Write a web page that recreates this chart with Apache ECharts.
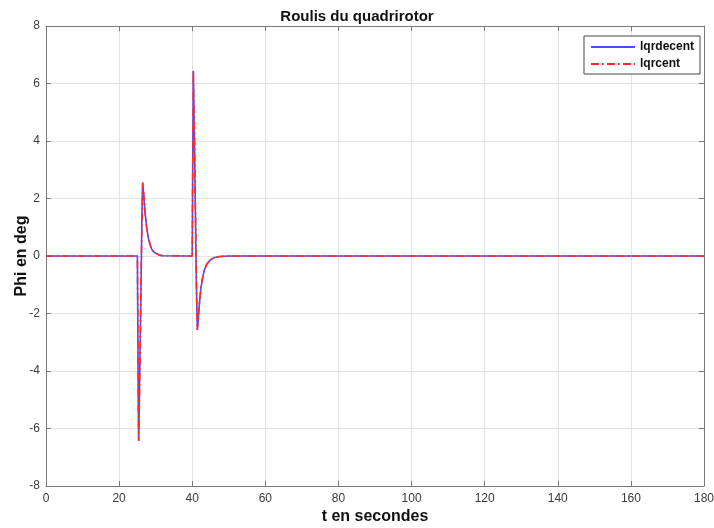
<!DOCTYPE html>
<html><head><meta charset="utf-8">
<script src="https://cdn.jsdelivr.net/npm/echarts@6/dist/echarts.min.js"></script>
<style>html,body{margin:0;padding:0;background:#fff}#c{width:714px;height:528px}</style>
</head><body><div id="c"></div>
<script>
const title = "Roulis du quadrirotor";
const xName = "t en secondes";
const yName = "Phi en deg";
const seriesNames = ["lqrdecent", "lqrcent"];
const xTicks = [0, 20, 40, 60, 80, 100, 120, 140, 160, 180];
const yTicks = [-8, -6, -4, -2, 0, 2, 4, 6, 8];

const t = [0, 25.0, 25.12, 25.25, 25.35, 25.5, 25.7, 25.9, 26.1, 26.3, 26.45, 26.7, 27.0, 27.5, 28.0, 28.5, 29.0, 29.5, 30.0, 31.0, 32.0,
  40.0, 40.15, 40.3, 40.6, 40.9, 41.15, 41.4, 41.6, 41.9, 42.3, 42.8, 43.3, 44.0, 45.0, 46.0, 47.5, 50.0, 180];
const phiDecent = [0, 0, -2.4, -5.2, -6.43, -5.3, -3.6, -1.9, 0.0, 1.8, 2.55, 2.2, 1.65, 1.02, 0.62, 0.38, 0.22, 0.14, 0.08, 0.03, 0.01,
  0, 3.4, 6.44, 4.1, 1.3, -1.1, -2.57, -2.3, -1.75, -1.2, -0.78, -0.5, -0.28, -0.13, -0.06, -0.02, 0, 0];
const phiCent = [0, 0, -2.4, -5.2, -6.43, -5.3, -3.6, -1.9, 0.0, 1.8, 2.55, 2.2, 1.65, 1.02, 0.62, 0.38, 0.22, 0.14, 0.08, 0.03, 0.01,
  0, 3.4, 6.44, 4.1, 1.3, -1.1, -2.57, -2.3, -1.75, -1.2, -0.78, -0.5, -0.28, -0.13, -0.06, -0.02, 0, 0];

const font = "'Liberation Sans', Arial, sans-serif";
const axisCol = '#7a7a7a';
const pair = (xs, ys) => xs.map((x, i) => [x, ys[i]]);

const chart = echarts.init(document.getElementById('c'), null, {renderer: 'canvas'});
const baseAxis = {
  axisLine: {show: true, onZero: false, lineStyle: {color: axisCol, width: 1}},
  axisTick: {show: true, inside: true, length: 5, lineStyle: {color: axisCol}},
  splitLine: {show: false},
};
chart.setOption({
  animation: false,
  backgroundColor: '#fff',
  title: {text: title, left: 'center', top: 4, textStyle: {fontFamily: font, fontSize: 15, fontWeight: 'bold', color: '#111'}},
  grid: {left: 46, right: 10, top: 26, bottom: 42, containLabel: false, outerBoundsMode: 'none'},
  legend: {
    right: 14, top: 36, orient: 'vertical', itemWidth: 44, itemHeight: 10, itemGap: 5,
    borderColor: '#444', borderWidth: 1, padding: [5, 6, 4, 6], backgroundColor: '#fff',
    textStyle: {fontFamily: font, fontSize: 12, fontWeight: 'bold', color: '#111'},
    itemStyle: {opacity: 0},
    data: seriesNames
  },
  xAxis: [
    Object.assign({}, baseAxis, {
      type: 'value', min: 0, max: 180, interval: 20, position: 'bottom',
      name: xName, nameLocation: 'middle', nameGap: 23, nameMoveOverlap: false,
      nameTextStyle: {fontFamily: font, fontSize: 16, fontWeight: 'bold', color: '#111'},
      axisLabel: {fontFamily: font, fontSize: 12, color: '#3a3a3a', margin: 7},
      splitLine: {show: true, lineStyle: {color: '#e3e3e3', width: 1}}
    }),
    Object.assign({}, baseAxis, {
      type: 'value', min: 0, max: 180, interval: 20, position: 'top', axisLabel: {show: false}
    })
  ],
  yAxis: [
    Object.assign({}, baseAxis, {
      type: 'value', min: -8, max: 8, interval: 2, position: 'left',
      name: yName, nameLocation: 'middle', nameGap: 16, nameMoveOverlap: false,
      nameTextStyle: {fontFamily: font, fontSize: 16, fontWeight: 'bold', color: '#111'},
      axisLabel: {fontFamily: font, fontSize: 12, color: '#3a3a3a', margin: 6},
      splitLine: {show: true, lineStyle: {color: '#e3e3e3', width: 1}}
    }),
    Object.assign({}, baseAxis, {
      type: 'value', min: -8, max: 8, interval: 2, position: 'right', axisLabel: {show: false}
    })
  ],
  series: [
    {name: seriesNames[0], type: 'line', data: pair(t, phiDecent), showSymbol: false, symbol: 'none',
      lineStyle: {color: '#4a4aff', width: 1.6}, itemStyle: {color: '#4a4aff'}, z: 2},
    {name: seriesNames[1], type: 'line', data: pair(t, phiCent), showSymbol: false, symbol: 'none',
      lineStyle: {color: '#ff2a2a', width: 1.6, type: [8, 3, 2, 3]}, itemStyle: {color: '#ff2a2a'}, z: 3}
  ]
});
</script></body></html>
